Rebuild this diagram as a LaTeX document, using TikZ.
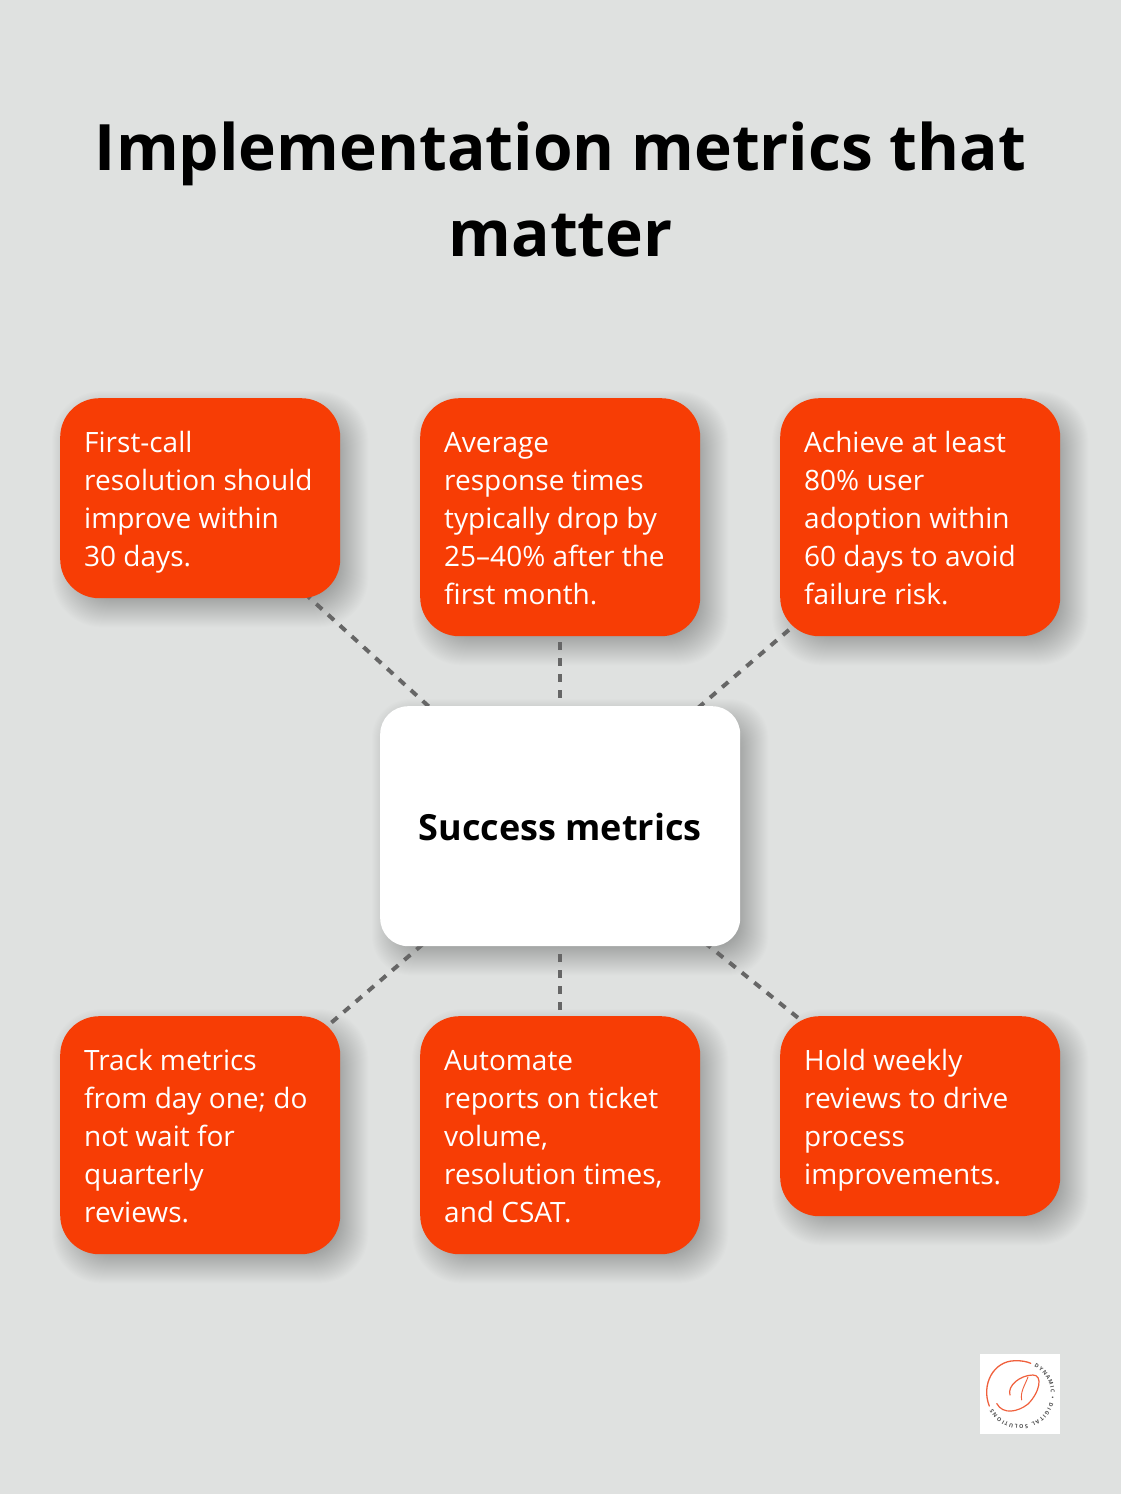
\documentclass[tikz,border=0pt]{standalone}
\usepackage{fontspec}
\setmainfont{Open Sans}
\usetikzlibrary{calc,decorations.text}
\definecolor{pagecol}{HTML}{DFE1E0}
\definecolor{cardcol}{HTML}{F73D05}
\definecolor{linkcol}{HTML}{666666}
\definecolor{logocol}{HTML}{F0603C}
\pgfdeclarelayer{shadowlayer}
\pgfdeclarelayer{linklayer}
\pgfsetlayers{shadowlayer,linklayer,main}
\tikzset{
  card/.style={anchor=north west, fill=cardcol, text=white, rounded corners=39pt, text width=232pt, inner xsep=24pt, inner ysep=24pt, align=flush left, font=\fontsize{28}{38}\selectfont},
  hub/.style={anchor=north west, fill=white, rounded corners=28pt, minimum width=360pt, minimum height=240pt, inner sep=0pt},
  hublabel/.style={inner sep=0pt, anchor=base, font=\fontsize{36}{44}\selectfont\bfseries},
  headline/.style={inner sep=0pt, anchor=base, font=\fontsize{64}{85}\selectfont\bfseries},
  linkline/.style={draw=linkcol, line width=4pt, dash=on 8pt off 8pt phase 3pt},
  logoline/.style={draw=logocol, line cap=round}
}
\newcommand{\topstrut}{\rule{0pt}{30.6pt}}
\newcommand{\botstrut}{\rule[-7.4pt]{0pt}{7.4pt}}
\newcommand{\softshadow}[2]{%
  \foreach \s in {-12,-11,...,18}
    \fill[black, opacity=0.008, rounded corners=#2+\s*0.6]
      ($(#1.south west)+(10-\s,-11-\s)$) rectangle ($(#1.north east)+(10+\s,-11+\s)$);}
\begin{document}
\begin{tikzpicture}[x=1pt,y=1pt]
\useasboundingbox (0,0) rectangle (1120,-1494);
\node[headline] (title1) at (560.5,-170) {Implementation metrics that};
\node[headline] (title2) at (560.5,-256) {matter};
\node[hub] (hub) at (380,-706) {};
\node[hublabel] (hubtext) at (560,-840) {Success metrics};
\node[card] (card1) at (60,-398) {\topstrut First-call\\resolution should\\improve within\\30 days.\botstrut};
\node[card] (card2) at (420,-398) {\topstrut Average\\response times\\typically drop by\\25–40\% after the\\first month.\botstrut};
\node[card] (card3) at (780,-398) {\topstrut Achieve at least\\80\% user\\adoption within\\60 days to avoid\\failure risk.\botstrut};
\node[card] (card4) at (60,-1016) {\topstrut Track metrics\\from day one; do\\not wait for\\quarterly\\reviews.\botstrut};
\node[card] (card5) at (420,-1016) {\topstrut Automate\\reports on ticket\\volume,\\resolution times,\\and CSAT.\botstrut};
\node[card] (card6) at (780,-1016) {\topstrut Hold weekly\\reviews to drive\\process\\improvements.\botstrut};
\begin{pgfonlayer}{shadowlayer}
\fill[pagecol] (-3,3) rectangle (1123,-1497);
\softshadow{hub}{28}
\foreach \n in {card1,card2,card3,card4,card5,card6} {
  \softshadow{\n}{39}
}
\end{pgfonlayer}
\begin{pgfonlayer}{linklayer}
\foreach \n in {card1,card2,card3,card4,card5,card6} {
  \draw[linkline] (\n.center) -- (hub.center);
}
\end{pgfonlayer}
\node[fill=white, minimum size=80pt, inner sep=0pt, anchor=north west] (logo) at (980,-1354) {};
\draw[logoline, line width=1.3pt] (989.3,-1406) .. controls (981,-1385) and (993,-1361) .. (1015,-1360.7) .. controls (1021,-1360.5) and (1027,-1361.5) .. (1030.7,-1363.3);
\draw[logoline, line width=1.2pt] (1010,-1395) .. controls (1007,-1386) and (1020,-1375) .. (1033,-1375) .. controls (1043,-1375) and (1040,-1392) .. (1028,-1404) .. controls (1018,-1412) and (1003,-1415) .. (996.7,-1403.5);
\draw[logoline, line width=0.9pt] (1028,-1377) .. controls (1025,-1385) and (1020,-1392) .. (1021.7,-1400);
\path[decorate, decoration={text along path, text align={fit to path}, text={|\fontsize{5.4}{6}\selectfont\bfseries\color{black!70}|DYNAMIC • DIGITAL SOLUTIONS}}]
  (1020,-1394) ++(63:31) arc[start angle=63, end angle=-151, radius=31];
\end{tikzpicture}
\end{document}
